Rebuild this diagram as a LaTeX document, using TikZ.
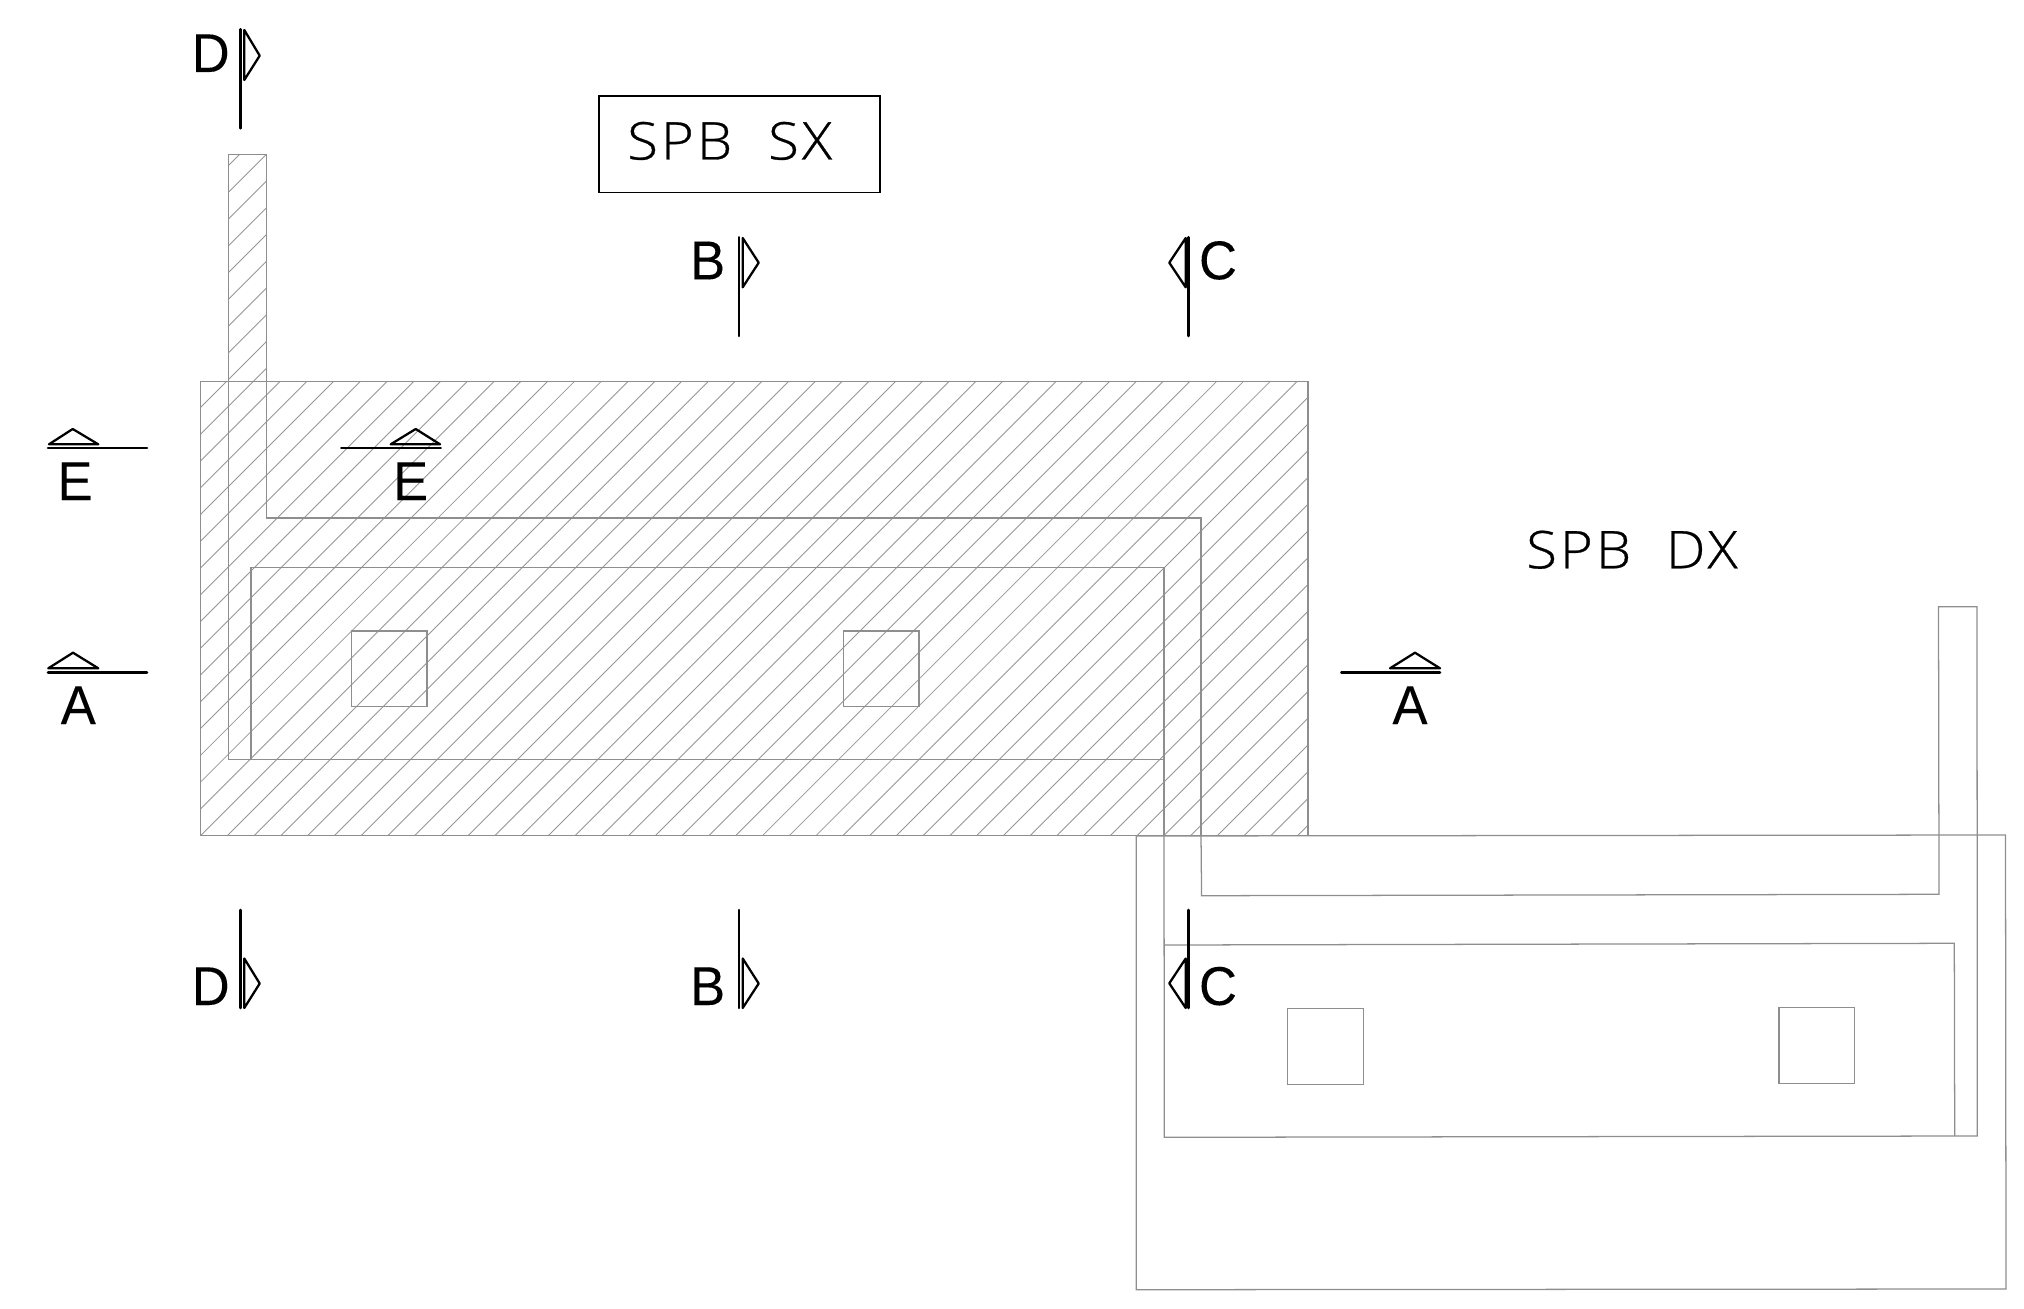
\documentclass[tikz,border=0pt]{standalone}
\usepackage{fontspec}
\setmainfont[FakeStretch=0.96,FakeBold=0.15]{Liberation Sans}
\newfontfamily\cadfont[LetterSpace=6,FakeStretch=1.08,FakeBold=0.5]{Open Sans Light}
\definecolor{outl}{HTML}{8E8E8E}
\definecolor{hat}{HTML}{969696}
\tikzset{
  outline/.style={draw=outl,line width=0.95pt,line join=miter},
  hatchline/.style={draw=hat,line width=0.65pt},
  secline/.style={draw=black,line width=1.9pt,line cap=round},
  sechead/.style={draw=black,line width=1.7pt,line join=round,line cap=round},
  seclabel/.style={inner sep=0pt,anchor=base,font=\fontsize{41}{41}\selectfont},
  cadlabel/.style={inner sep=0pt,anchor=base west,font=\fontsize{39}{39}\selectfont\cadfont},
  titlebox/.style={draw=black,line width=1.3pt,inner sep=0pt,minimum width=210.75pt,minimum height=72.5pt}
}
\begin{document}
\begin{tikzpicture}[x=0.75pt,y=-0.75pt]
\useasboundingbox (0,0) rectangle (2024,1309);
% hatching of the left part
\begin{scope}
  \clip (200.3,381.5) rectangle (1308,835.5) (228.7,154.5) rectangle (266.5,381.5);
  \foreach \k in {-11,...,56}{
    \pgfmathsetmacro{\hc}{661.5+26.76*\k}
    \draw[hatchline] (100,{\hc-100}) -- (1400,{\hc-1400});
  }
\end{scope}
% left part
\draw[outline] (200.3,381.5) rectangle (1308,835.5);
\draw[outline] (228.7,759.7) -- (228.7,154.5) -- (266.5,154.5) -- (266.5,518) -- (1201,518) -- (1201,835.5);
\draw[outline] (228.7,759.7) -- (1164,759.7);
\draw[outline] (1164,835.5) -- (1164,567.3) -- (251,567.3) -- (251,759.7);
\draw[outline] (351.3,631) rectangle (427,706.7);
\draw[outline] (843.3,631) rectangle (919,706.7);
% right part
\draw[outline] (1136.3,836) -- (2005.5,835) -- (2006,1289) -- (1136.3,1289.7) -- cycle;
\draw[outline] (1201,835.5) -- (1201.6,895.7) -- (1939,894.3) -- (1938.5,606.7) -- (1977,606.7) -- (1977.3,1136) -- (1164.3,1137.3) -- (1164,835.5);
\draw[outline] (1164.3,945) -- (1954.3,943.3) -- (1954.7,1136);
\draw[outline] (1287.3,1008.7) rectangle (1363.3,1084.7);
\draw[outline] (1779,1007.7) rectangle (1854.7,1083.5);
% title box and texts
\node[titlebox] (boxsx) at (739.8,144.3) {};
\node[cadlabel] (sx) at (627,159.5) {SPB\hspace{27pt}SX};
\node[cadlabel] (dx) at (1526,568.3) {SPB\hspace{26pt}DX};
% section D top
\draw[secline] (240.7,29.3) -- (240.7,128.3);
\draw[sechead] (244.3,30) -- (259.7,55.7) -- (244.3,80) -- cycle;
\node[seclabel] (d1) at (210.7,72) {D};
% section D bottom
\draw[secline] (240.7,910) -- (240.7,1008);
\draw[sechead] (244.3,958.5) -- (259.7,983.5) -- (244.3,1008) -- cycle;
\node[seclabel] (d2) at (210.7,1005) {D};
% section B top
\draw[secline] (739,237.3) -- (739,336);
\draw[sechead] (742.7,238) -- (758.7,262.7) -- (742.7,287.3) -- cycle;
\node[seclabel] (b1) at (707.7,279.3) {B};
% section B bottom
\draw[secline] (739,910) -- (739,1008);
\draw[sechead] (742.7,958.5) -- (758.7,983.5) -- (742.7,1008) -- cycle;
\node[seclabel] (b2) at (707.7,1005) {B};
% section C top
\draw[secline] (1188.7,237.3) -- (1188.7,336);
\draw[sechead] (1185.7,238) -- (1169.3,262.7) -- (1185.7,287.3) -- cycle;
\node[seclabel] (c1) at (1218,279.3) {C};
% section C bottom
\draw[secline] (1188.7,910) -- (1188.7,1008);
\draw[sechead] (1185.7,958.5) -- (1169.3,983.3) -- (1185.7,1008) -- cycle;
\node[seclabel] (c2) at (1218,1005) {C};
% section E
\draw[secline] (48,448) -- (147,448);
\draw[sechead] (49,444.3) -- (72.7,429) -- (98.3,444.3) -- cycle;
\node[seclabel] (e1) at (75,500) {E};
\draw[secline] (341.3,448) -- (440.7,448);
\draw[sechead] (390.7,444.3) -- (415.7,429) -- (440,444.3) -- cycle;
\node[seclabel] (e2) at (410.7,500) {E};
% section A
\draw[secline] (48,672.3) -- (147,672.3);
\draw[sechead] (48.3,668.3) -- (73,652.7) -- (98.3,668.3) -- cycle;
\node[seclabel] (a1) at (78.3,724) {A};
\draw[secline] (1341.3,672.3) -- (1440,672.3);
\draw[sechead] (1390,668.3) -- (1415,652.7) -- (1440,668.3) -- cycle;
\node[seclabel] (a2) at (1410,724) {A};
\end{tikzpicture}
\end{document}
